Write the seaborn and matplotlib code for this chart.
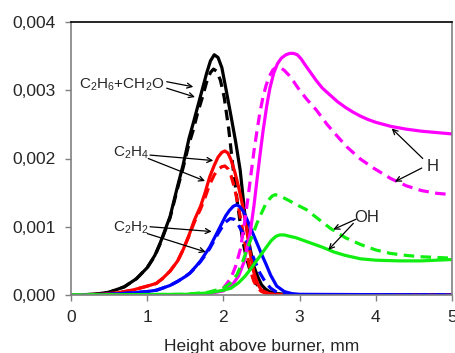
import matplotlib
matplotlib.use("Agg")
import matplotlib.pyplot as plt
import seaborn as sns
import pandas as pd

# ---- data ----
c2h6_x = [0, 0.3, 0.5, 0.7, 0.86, 1.0, 1.1, 1.17, 1.3, 1.4, 1.47, 1.55, 1.6, 1.66, 1.72, 1.78, 1.83, 1.88, 1.93, 1.98, 2.04, 2.1, 2.16, 2.22, 2.28, 2.35, 2.4, 2.45, 2.5, 2.55, 2.6, 2.7, 2.8, 3.0, 5.0]
c2h6_y = [0, 0.00001, 0.00004, 0.00012, 0.00024, 0.0004, 0.00058, 0.00076, 0.00115, 0.0016, 0.0019, 0.0023, 0.0025, 0.00275, 0.0030, 0.00325, 0.00343, 0.00352, 0.00348, 0.00333, 0.00298, 0.00262, 0.00225, 0.00183, 0.0012, 0.00068, 0.00042, 0.00027, 0.00015, 0.00009, 0.00005, 0.00002, 0.00001, 0, 0]
c2h6d_x = [0, 0.3, 0.5, 0.7, 0.86, 1.0, 1.1, 1.17, 1.3, 1.4, 1.47, 1.55, 1.6, 1.66, 1.72, 1.78, 1.83, 1.87, 1.91, 1.96, 2.01, 2.07, 2.13, 2.19, 2.25, 2.3, 2.36, 2.42, 2.5, 2.6, 2.75, 3.0, 5.0]
c2h6d_y = [0, 0.00001, 0.00004, 0.00012, 0.00024, 0.0004, 0.00057, 0.00075, 0.00113, 0.00157, 0.00186, 0.00222, 0.0024, 0.00266, 0.00288, 0.00312, 0.00326, 0.00331, 0.00328, 0.00315, 0.0029, 0.00243, 0.00183, 0.0013, 0.00082, 0.00055, 0.00032, 0.00018, 0.00008, 0.00003, 0.00001, 0, 0]

c2h4_x = [0, 0.4, 0.6, 0.8, 1.0, 1.12, 1.2, 1.3, 1.4, 1.47, 1.55, 1.62, 1.7, 1.76, 1.82, 1.88, 1.93, 1.98, 2.02, 2.06, 2.1, 2.15, 2.2, 2.25, 2.3, 2.35, 2.4, 2.45, 2.5, 2.6, 2.8, 5.0]
c2h4_y = [0, 0.00001, 0.00003, 0.00007, 0.00013, 0.00017, 0.00024, 0.00035, 0.0005, 0.00066, 0.00088, 0.0011, 0.0013, 0.0015, 0.00173, 0.0019, 0.00202, 0.00209, 0.00211, 0.00208, 0.00198, 0.0018, 0.00158, 0.00132, 0.0010, 0.00062, 0.00033, 0.00016, 0.00007, 0.00002, 0, 0]
c2h4d_x = [0, 0.4, 0.6, 0.8, 1.0, 1.12, 1.2, 1.3, 1.4, 1.47, 1.55, 1.62, 1.7, 1.76, 1.82, 1.88, 1.93, 1.98, 2.02, 2.06, 2.1, 2.15, 2.2, 2.25, 2.3, 2.35, 2.4, 2.45, 2.5, 2.6, 2.8, 5.0]
c2h4d_y = [0, 0.00001, 0.00003, 0.00007, 0.00013, 0.00017, 0.00024, 0.00035, 0.0005, 0.00066, 0.00087, 0.00107, 0.00126, 0.00143, 0.00162, 0.00176, 0.00184, 0.00188, 0.00189, 0.00185, 0.00175, 0.00155, 0.00128, 0.00097, 0.00065, 0.00038, 0.0002, 0.0001, 0.00005, 0.00001, 0, 0]

c2h2_x = [0, 0.5, 0.8, 1.0, 1.12, 1.2, 1.3, 1.4, 1.5, 1.56, 1.64, 1.7, 1.76, 1.82, 1.87, 1.93, 1.98, 2.03, 2.08, 2.13, 2.17, 2.21, 2.26, 2.32, 2.38, 2.44, 2.5, 2.56, 2.62, 2.7, 2.8, 2.9, 3.0, 5.0]
c2h2_y = [0, 0.00001, 0.00003, 0.00005, 0.00007, 0.0001, 0.00014, 0.0002, 0.00027, 0.00032, 0.00042, 0.0005, 0.0006, 0.0007, 0.00081, 0.00094, 0.00105, 0.00116, 0.00124, 0.0013, 0.00132, 0.0013, 0.00123, 0.00108, 0.00092, 0.00076, 0.0006, 0.00045, 0.00029, 0.00013, 0.00005, 0.00002, 0.00001, 0]
c2h2d_x = [0, 0.5, 0.8, 1.0, 1.12, 1.2, 1.3, 1.4, 1.5, 1.56, 1.64, 1.7, 1.76, 1.82, 1.87, 1.93, 1.98, 2.03, 2.09, 2.14, 2.19, 2.25, 2.3, 2.36, 2.42, 2.48, 2.55, 2.62, 2.7, 2.8, 3.0, 5.0]
c2h2d_y = [0, 0.00001, 0.00003, 0.00005, 0.00007, 0.0001, 0.00014, 0.0002, 0.00027, 0.00032, 0.00041, 0.00049, 0.00058, 0.00068, 0.00078, 0.0009, 0.00099, 0.00107, 0.00112, 0.00111, 0.00104, 0.00092, 0.0008, 0.00064, 0.00048, 0.00032, 0.00019, 0.0001, 0.00004, 0.00001, 0, 0]

h_x = [0, 1.5, 1.8, 2.0, 2.13, 2.2, 2.27, 2.35, 2.4, 2.44, 2.48, 2.52, 2.57, 2.61, 2.66, 2.71, 2.76, 2.82, 2.87, 2.92, 2.97, 3.02, 3.08, 3.15, 3.22, 3.3, 3.4, 3.5, 3.6, 3.7, 3.8, 3.9, 4.0, 4.2, 4.4, 4.6, 4.8, 5.0]
h_y = [0, 0, 0.00002, 0.00006, 0.00017, 0.00028, 0.00048, 0.0009, 0.0013, 0.00168, 0.00205, 0.0024, 0.00278, 0.00303, 0.00325, 0.00339, 0.00347, 0.00352, 0.00354, 0.00354, 0.00352, 0.00346, 0.00336, 0.00325, 0.00314, 0.00303, 0.00293, 0.00283, 0.00275, 0.00268, 0.00262, 0.00257, 0.00253, 0.00247, 0.00243, 0.0024, 0.00238, 0.00236]
hd_x = [0, 1.5, 1.8, 2.0, 2.1, 2.16, 2.22, 2.27, 2.32, 2.36, 2.4, 2.44, 2.48, 2.52, 2.56, 2.6, 2.65, 2.7, 2.75, 2.8, 2.86, 2.92, 3.0, 3.1, 3.22, 3.36, 3.5, 3.62, 3.8, 3.97, 4.19, 4.4, 4.6, 4.8, 5.0]
hd_y = [0, 0, 0.00003, 0.0001, 0.00025, 0.00042, 0.00066, 0.001, 0.0014, 0.00175, 0.0021, 0.0024, 0.00268, 0.0029, 0.00307, 0.0032, 0.0033, 0.00334, 0.00333, 0.00329, 0.00322, 0.00313, 0.003, 0.00286, 0.00271, 0.0025, 0.00232, 0.00217, 0.00199, 0.00186, 0.00171, 0.0016, 0.00153, 0.00149, 0.00147]

oh_x = [0, 1.5, 1.8, 2.0, 2.1, 2.2, 2.28, 2.35, 2.42, 2.5, 2.57, 2.63, 2.69, 2.74, 2.8, 2.87, 2.95, 3.05, 3.15, 3.3, 3.45, 3.6, 3.8, 4.0, 4.3, 4.6, 5.0]
oh_y = [0, 0.00001, 0.00003, 0.00007, 0.0001, 0.00018, 0.00027, 0.00037, 0.00048, 0.0006, 0.00071, 0.0008, 0.00086, 0.00088, 0.00088, 0.00086, 0.00084, 0.0008, 0.00076, 0.0007, 0.00063, 0.00058, 0.00053, 0.00051, 0.0005, 0.0005, 0.00052]
ohd_x = [0, 1.5, 1.8, 2.0, 2.1, 2.18, 2.26, 2.32, 2.39, 2.44, 2.5, 2.55, 2.6, 2.64, 2.68, 2.72, 2.78, 2.85, 2.95, 3.09, 3.25, 3.4, 3.6, 3.8, 4.0, 4.19, 4.4, 4.6, 4.8, 5.0]
ohd_y = [0, 0.00001, 0.00004, 0.0001, 0.00018, 0.0003, 0.00051, 0.0007, 0.0009, 0.00105, 0.0012, 0.00132, 0.0014, 0.00145, 0.00147, 0.00146, 0.00143, 0.00139, 0.00133, 0.00125, 0.00111, 0.00098, 0.00084, 0.00074, 0.00066, 0.00061, 0.00058, 0.00056, 0.00055, 0.00054]

x_ticks = [0, 1, 2, 3, 4, 5]
y_ticks = [0, 0.001, 0.002, 0.003, 0.004]
y_tick_labels = ["0,000", "0,001", "0,002", "0,003", "0,004"]
x_label = "Height above burner, mm"

# ---- style ----
sns.set_style("ticks")
plt.rcParams['font.family'] = ['Liberation Sans', 'DejaVu Sans']
plt.rcParams['mathtext.fontset'] = 'custom'
plt.rcParams['mathtext.rm'] = 'Liberation Sans'
plt.rcParams['mathtext.it'] = 'Liberation Sans'
plt.rcParams['mathtext.default'] = 'regular'

fig = plt.figure(figsize=(4.56, 3.53), dpi=100)
ax = fig.add_axes([71/456, 1-295/353, (452-71)/456, (295-22)/353])

GREEN = '#11ee11'
series = [
    (c2h6_x, c2h6_y, 'black', '-'), (c2h6d_x, c2h6d_y, 'black', '--'),
    (c2h4_x, c2h4_y, '#ff0000', '-'), (c2h4d_x, c2h4d_y, '#ff0000', '--'),
    (c2h2_x, c2h2_y, '#0000ff', '-'), (c2h2d_x, c2h2d_y, '#0000ff', '--'),
    (h_x, h_y, '#ff00ff', '-'), (hd_x, hd_y, '#ff00ff', '--'),
    (oh_x, oh_y, GREEN, '-'), (ohd_x, ohd_y, GREEN, '--'),
]
for xs, ys, col, ls in series:
    df = pd.DataFrame({'x': xs, 'y': ys})
    sns.lineplot(data=df, x='x', y='y', ax=ax, color=col, lw=2.3, linestyle=ls)
    ln = ax.lines[-1]
    if ls == '--':
        ln.set_dashes((3.3, 2.0))
    ln.set_solid_joinstyle('round')
    ln.set_dash_joinstyle('round')

ax.set_xlim(0, 5)
ax.set_ylim(0, 0.004)
ax.set_xticks(x_ticks)
ax.set_xticklabels([str(t) for t in x_ticks])
ax.set_yticks(y_ticks)
ax.set_yticklabels(y_tick_labels)
ax.set_xlabel(x_label, fontsize=12.5, labelpad=10)
ax.set_ylabel("")
ax.tick_params(axis='both', labelsize=12.5, length=4, width=1, color='#808080', pad=7)
for s in ['left', 'bottom', 'right']:
    ax.spines[s].set_color('#808080')
    ax.spines[s].set_linewidth(1.2)
ax.spines['top'].set_color('black')
ax.spines['top'].set_linewidth(1.2)

arrow = dict(arrowstyle='->', lw=0.9, color='black', shrinkA=0, shrinkB=0, mutation_scale=9)
fs = 11
ax.text(0.66, 0.00308, r'C$_2$H$_6$+CH$_2$O', ha='center', va='center', fontsize=fs)
ax.annotate('', xy=(1.605, 0.00305), xytext=(1.256, 0.003125), arrowprops=arrow)
ax.annotate('', xy=(1.627, 0.0029), xytext=(1.256, 0.00303), arrowprops=arrow)

ax.text(0.787, 0.00208, r'C$_2$H$_4$', ha='center', va='center', fontsize=fs)
ax.annotate('', xy=(1.867, 0.00197), xytext=(1.037, 0.00205), arrowprops=arrow)
ax.annotate('', xy=(1.759, 0.00167), xytext=(1.014, 0.0020), arrowprops=arrow)

ax.text(0.787, 0.00098, r'C$_2$H$_2$', ha='center', va='center', fontsize=fs)
ax.annotate('', xy=(1.846, 0.00093), xytext=(1.037, 0.0010), arrowprops=arrow)
ax.annotate('', xy=(1.768, 0.00063), xytext=(1.001, 0.0009), arrowprops=arrow)

ax.text(4.75, 0.00189, 'H', ha='center', va='center', fontsize=12)
ax.annotate('', xy=(4.209, 0.00244), xytext=(4.616, 0.0020), arrowprops=arrow)
ax.annotate('', xy=(4.25, 0.00166), xytext=(4.603, 0.00186), arrowprops=arrow)

ax.text(3.885, 0.00113, 'OH', ha='center', va='center', fontsize=12)
ax.annotate('', xy=(3.442, 0.00096), xytext=(3.74, 0.00111), arrowprops=arrow)
ax.annotate('', xy=(3.377, 0.00066), xytext=(3.705, 0.00105), arrowprops=arrow)

fig.savefig('out.png', dpi=100)
